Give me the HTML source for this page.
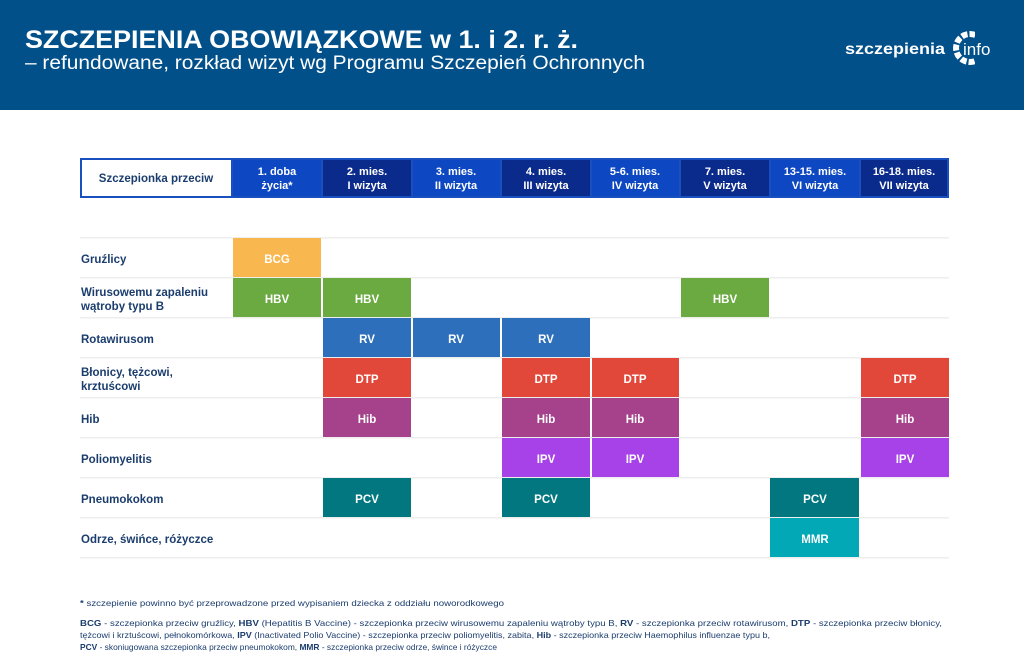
<!DOCTYPE html>
<html><head><meta charset="utf-8"><style>
body{margin:0;width:1024px;height:658px;overflow:hidden;background:#fff;font-family:"Liberation Sans",sans-serif}
svg{display:block}
</style></head><body>
<svg width="1024" height="658" viewBox="0 0 1024 658" font-family="Liberation Sans, sans-serif">
<rect x="0" y="0" width="1024" height="110" fill="#02508a"/>
<text x="25" y="48" font-size="25" font-weight="bold" fill="#fff" textLength="553" lengthAdjust="spacingAndGlyphs">SZCZEPIENIA OBOWIĄZKOWE w 1. i 2. r. ż.</text>
<text x="25" y="69" font-size="19" fill="#fff" textLength="620" lengthAdjust="spacingAndGlyphs">– refundowane, rozkład wizyt wg Programu Szczepień Ochronnych</text>
<text x="845" y="54" font-size="16" font-weight="bold" fill="#fff" textLength="100" lengthAdjust="spacingAndGlyphs">szczepienia</text>
<circle cx="970" cy="48" r="14" fill="none" stroke="#fff" stroke-width="6" stroke-dasharray="6 2" transform="rotate(-60 970 48)" />
<rect x="975" y="28" width="25" height="40" fill="#02508a"/>
<text x="963" y="55" font-size="17" fill="#fff">info</text>

<rect x="80" y="158" width="869" height="40" fill="#1a4fc0"/>
<rect x="82" y="160" width="149" height="36" fill="#fff"/>
<text x="156" y="182" font-size="11.5" font-weight="bold" fill="#1b3d6e" text-anchor="middle">Szczepionka przeciw</text>
<g font-size="11" font-weight="bold" fill="#fff" text-anchor="middle">
<rect x="233" y="160" width="88" height="36" fill="#0d47c2"/>
<text x="277" y="175">1. doba</text><text x="277" y="189">życia*</text>
<rect x="323" y="160" width="88" height="36" fill="#0b2b8c"/>
<text x="367" y="175">2. mies.</text><text x="367" y="189">I wizyta</text>
<rect x="413" y="160" width="87" height="36" fill="#0d47c2"/>
<text x="456" y="175">3. mies.</text><text x="456" y="189">II wizyta</text>
<rect x="502" y="160" width="88" height="36" fill="#0b2b8c"/>
<text x="546" y="175">4. mies.</text><text x="546" y="189">III wizyta</text>
<rect x="592" y="160" width="87" height="36" fill="#0d47c2"/>
<text x="635" y="175">5-6. mies.</text><text x="635" y="189">IV wizyta</text>
<rect x="681" y="160" width="88" height="36" fill="#0b2b8c"/>
<text x="725" y="175">7. mies.</text><text x="725" y="189">V wizyta</text>
<rect x="771" y="160" width="88" height="36" fill="#0d47c2"/>
<text x="815" y="175">13-15. mies.</text><text x="815" y="189">VI wizyta</text>
<rect x="861" y="160" width="86" height="36" fill="#0b2b8c"/>
<text x="904" y="175">16-18. mies.</text><text x="904" y="189">VII wizyta</text>
</g>

<g fill="#eeeeee">
<rect x="80" y="237" width="869" height="1.5"/>
<rect x="80" y="277" width="869" height="1.5"/>
<rect x="80" y="317" width="869" height="1.5"/>
<rect x="80" y="357" width="869" height="1.5"/>
<rect x="80" y="397" width="869" height="1.5"/>
<rect x="80" y="437" width="869" height="1.5"/>
<rect x="80" y="477" width="869" height="1.5"/>
<rect x="80" y="517" width="869" height="1.5"/>
<rect x="80" y="557" width="869" height="1.5"/>
</g>

<g font-size="11.5" font-weight="bold" fill="#1b3d6e">
<text x="81" y="263">Gruźlicy</text>
<text x="81" y="296">Wirusowemu zapaleniu</text><text x="81" y="310">wątroby typu B</text>
<text x="81" y="343">Rotawirusom</text>
<text x="81" y="376">Błonicy, tężcowi,</text><text x="81" y="390">krztuścowi</text>
<text x="81" y="423">Hib</text>
<text x="81" y="463">Poliomyelitis</text>
<text x="81" y="503">Pneumokokom</text>
<text x="81" y="543">Odrze, świńce, różyczce</text>
</g>

<g font-size="11.5" font-weight="bold" fill="#fff" text-anchor="middle">
<rect x="233" y="238" width="88" height="39" fill="#f8b84f"/><text x="277" y="263">BCG</text>
<rect x="233" y="278" width="88" height="39" fill="#6aaa41"/><text x="277" y="303">HBV</text>
<rect x="323" y="278" width="88" height="39" fill="#6aaa41"/><text x="367" y="303">HBV</text>
<rect x="681" y="278" width="88" height="39" fill="#6aaa41"/><text x="725" y="303">HBV</text>
<rect x="323" y="318" width="88" height="39" fill="#2d6fbb"/><text x="367" y="343">RV</text>
<rect x="413" y="318" width="87" height="39" fill="#2d6fbb"/><text x="456" y="343">RV</text>
<rect x="502" y="318" width="88" height="39" fill="#2d6fbb"/><text x="546" y="343">RV</text>
<rect x="323" y="358" width="88" height="39" fill="#e2483a"/><text x="367" y="383">DTP</text>
<rect x="502" y="358" width="88" height="39" fill="#e2483a"/><text x="546" y="383">DTP</text>
<rect x="592" y="358" width="87" height="39" fill="#e2483a"/><text x="635" y="383">DTP</text>
<rect x="861" y="358" width="88" height="39" fill="#e2483a"/><text x="905" y="383">DTP</text>
<rect x="323" y="398" width="88" height="39" fill="#a6418c"/><text x="367" y="423">Hib</text>
<rect x="502" y="398" width="88" height="39" fill="#a6418c"/><text x="546" y="423">Hib</text>
<rect x="592" y="398" width="87" height="39" fill="#a6418c"/><text x="635" y="423">Hib</text>
<rect x="861" y="398" width="88" height="39" fill="#a6418c"/><text x="905" y="423">Hib</text>
<rect x="502" y="438" width="88" height="39" fill="#a742e9"/><text x="546" y="463">IPV</text>
<rect x="592" y="438" width="87" height="39" fill="#a742e9"/><text x="635" y="463">IPV</text>
<rect x="861" y="438" width="88" height="39" fill="#a742e9"/><text x="905" y="463">IPV</text>
<rect x="323" y="478" width="88" height="39" fill="#037780"/><text x="367" y="503">PCV</text>
<rect x="502" y="478" width="88" height="39" fill="#037780"/><text x="546" y="503">PCV</text>
<rect x="770" y="478" width="89" height="39" fill="#037780"/><text x="815" y="503">PCV</text>
<rect x="770" y="518" width="89" height="39" fill="#02a8b5"/><text x="815" y="543">MMR</text>
</g>

<g font-size="8.5" fill="#1b3d6e">
<text x="80" y="606" textLength="424" lengthAdjust="spacingAndGlyphs"><tspan font-weight="bold">*</tspan> szczepienie powinno być przeprowadzone przed wypisaniem dziecka z oddziału noworodkowego</text>
<text x="80" y="626" textLength="862" lengthAdjust="spacingAndGlyphs"><tspan font-weight="bold">BCG</tspan> - szczepionka przeciw gruźlicy, <tspan font-weight="bold">HBV</tspan> (Hepatitis B Vaccine) - szczepionka przeciw wirusowemu zapaleniu wątroby typu B, <tspan font-weight="bold">RV</tspan> - szczepionka przeciw rotawirusom,  <tspan font-weight="bold">DTP</tspan> - szczepionka przeciw błonicy,</text>
<text x="80" y="638" textLength="690" lengthAdjust="spacingAndGlyphs">tężcowi i krztuścowi, pełnokomórkowa, <tspan font-weight="bold">IPV</tspan> (Inactivated Polio Vaccine) - szczepionka przeciw poliomyelitis, zabita, <tspan font-weight="bold">Hib</tspan> - szczepionka przeciw Haemophilus influenzae typu b,</text>
<text x="80" y="650" textLength="417" lengthAdjust="spacingAndGlyphs"><tspan font-weight="bold">PCV</tspan> - skoniugowana szczepionka przeciw pneumokokom, <tspan font-weight="bold">MMR</tspan> - szczepionka przeciw odrze, śwince i różyczce</text>
</g>
</svg>
</body></html>
